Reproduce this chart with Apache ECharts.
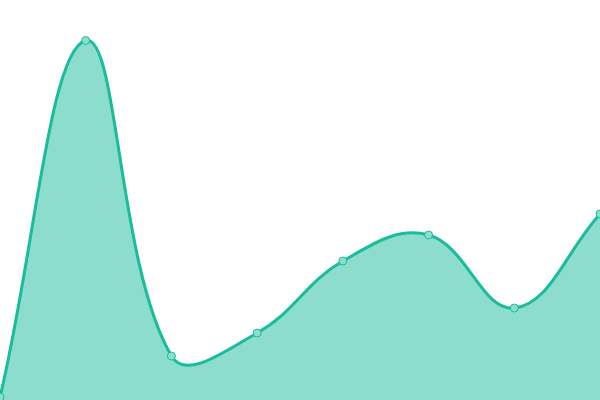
<!DOCTYPE html>
<html>
<head>
<meta charset="utf-8">
<script src="https://cdn.jsdelivr.net/npm/echarts@6/dist/echarts.min.js"></script>
<style>
html, body { margin: 0; padding: 0; background: #fff; }
#chart { width: 600px; height: 400px; }
</style>
</head>
<body>
<div id="chart"></div>
<script>
// data
const categories = ["1", "2", "3", "4", "5", "6", "7", "8"];
const values = [3, 359.5, 44, 67, 139, 165, 92, 186];

const lineColor = "#1abc9c";
const fillColor = "rgba(26, 188, 156, 0.5)";
const tension = 0.4;

function dist(a, b) {
    return Math.sqrt((a[0] - b[0]) * (a[0] - b[0]) + (a[1] - b[1]) * (a[1] - b[1]));
}

// cardinal-style spline through the points, control points kept inside the grid
function buildCurve(pts, area) {
    const clampX = (x) => Math.max(area.x, Math.min(area.x + area.width, x));
    const clampY = (y) => Math.max(area.y, Math.min(area.y + area.height, y));
    const cps = pts.map((p, i) => {
        const prev = pts[i - 1] || p;
        const next = pts[i + 1] || p;
        const d01 = dist(prev, p);
        const d12 = dist(p, next);
        const s01 = d01 / (d01 + d12) || 0;
        const s12 = d12 / (d01 + d12) || 0;
        const fa = tension * s01;
        const fb = tension * s12;
        return {
            before: [clampX(p[0] - fa * (next[0] - prev[0])), clampY(p[1] - fa * (next[1] - prev[1]))],
            after: [clampX(p[0] + fb * (next[0] - prev[0])), clampY(p[1] + fb * (next[1] - prev[1]))],
        };
    });
    let d = "M" + pts[0][0] + "," + pts[0][1];
    for (let i = 1; i < pts.length; i++) {
        d += " C" + cps[i - 1].after.join(",") + " " + cps[i].before.join(",") + " " + pts[i].join(",");
    }
    return d;
}

const chart = echarts.init(document.getElementById("chart"));
const option = {
    animation: false,
    grid: { left: 0, right: 0, top: 0, bottom: 0 },
    xAxis: {
        type: "category",
        data: categories,
        boundaryGap: false,
        show: false,
    },
    yAxis: {
        type: "value",
        min: 0,
        max: 400,
        show: false,
    },
    series: [
        {
            type: "custom",
            data: values.map((v, i) => [i, v]),
            encode: { x: 0, y: 1 },
            z: 2,
            renderItem: function (params, api) {
                if (params.dataIndex !== 0) return null;
                const pts = values.map((v, i) => api.coord([i, v]));
                const curve = buildCurve(pts, params.coordSys);
                const base = api.coord([0, 0])[1];
                const areaPath = curve +
                    " L" + pts[pts.length - 1][0] + "," + base +
                    " L" + pts[0][0] + "," + base + " Z";
                return {
                    type: "group",
                    children: [
                        {
                            type: "path",
                            shape: { pathData: areaPath },
                            style: { fill: fillColor, stroke: null },
                        },
                        {
                            type: "path",
                            shape: { pathData: curve },
                            style: { fill: null, stroke: lineColor, lineWidth: 3 },
                        },
                    ],
                };
            },
        },
        {
            type: "scatter",
            data: values,
            z: 3,
            symbol: "circle",
            symbolSize: 8,
            itemStyle: { color: "#8cddcd", borderColor: lineColor, borderWidth: 1, opacity: 1 },
        },
    ],
};
chart.setOption(option);
</script>
</body>
</html>
